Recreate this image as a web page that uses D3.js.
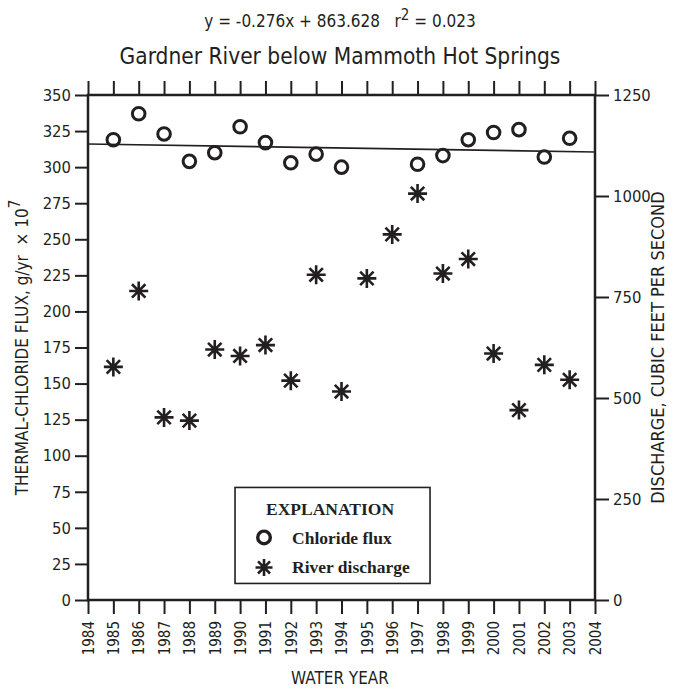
<!DOCTYPE html>
<html>
<head>
<meta charset="utf-8">
<script src="https://cdn.jsdelivr.net/npm/d3@7"></script>
<style>
  body { margin: 0; background: #fff; }
  text { font-family: "Liberation Sans Narrow", "DejaVu Sans Condensed", "Roboto", sans-serif; fill: #231f20; }
  .serif { font-family: "Liberation Serif", "DejaVu Serif", serif; }
</style>
</head>
<body>
<svg class="chart" width="680" height="690"></svg>
<script>
// water years
var years = [1985, 1986, 1987, 1988, 1989, 1990, 1991, 1992, 1993, 1994,
             1995, 1996, 1997, 1998, 1999, 2000, 2001, 2002, 2003];
// thermal-chloride flux, g/yr x 10^7 (null = no value)
var chlorideFlux = [319, 337, 323, 304, 310, 328, 317, 303, 309, 300,
                    null, null, 302, 308, 319, 324, 326, 307, 320];
// river discharge, cubic feet per second
var discharge = [577, 765, 452, 444, 620, 604, 631, 543, 805, 516,
                 796, 905, 1006, 808, 844, 610, 470, 582, 545];
// regression line y = slope*x + intercept, drawn across the year axis
var trendSlope = -0.276, trendIntercept = 863.628;
var trendYears = [1984, 2004];

var yearTicks = d3.range(1984, 2005);
var fluxTicks = d3.range(0, 351, 25);
var dischargeTicks = [0, 250, 500, 750, 1000, 1250];

var ink = "#231f20";
var margin = {top: 95, right: 85, bottom: 90, left: 88};
var width = 680 - margin.left - margin.right,
    height = 690 - margin.top - margin.bottom;

var svg = d3.select('.chart');
var chart = svg.append('g')
    .attr('transform', 'translate(' + margin.left + ',' + margin.top + ')');

var x = d3.scaleLinear().domain([1984, 2004]).range([0, width]);
var y = d3.scaleLinear().domain([0, 350]).range([height, 0]);
var y2 = d3.scaleLinear().domain([0, 1250]).range([height, 0]);

function styleAxis(g){
  g.select('.domain').remove();
  g.selectAll('.tick line').attr('stroke', ink).attr('stroke-width', 2);
  g.selectAll('.tick text').style('font-size', '16.5px').attr('fill', ink);
}

// bottom axis
chart.append('g')
  .attr('transform', 'translate(0,' + height + ')')
  .call(d3.axisBottom(x).tickValues(yearTicks).tickFormat(d3.format('d')).tickSize(14))
  .call(styleAxis)
  .selectAll('.tick text')
    .style('font-size', '15px')
    .attr('transform', 'rotate(-90)')
    .attr('text-anchor', 'end')
    .attr('x', -21)
    .attr('y', 0)
    .attr('dy', '0.35em');

// top ticks
chart.append('g')
  .call(d3.axisTop(x).tickValues(yearTicks).tickFormat('').tickSize(14))
  .call(styleAxis);

// left axis
chart.append('g')
  .call(d3.axisLeft(y).tickValues(fluxTicks).tickSize(13).tickPadding(4))
  .call(styleAxis);

// right axis
chart.append('g')
  .attr('transform', 'translate(' + width + ',0)')
  .call(d3.axisRight(y2).tickValues(dischargeTicks).tickFormat(d3.format('d')).tickSize(14).tickPadding(4))
  .call(styleAxis);

// frame
chart.append('rect')
  .attr('width', width).attr('height', height)
  .attr('fill', 'none').attr('stroke', ink).attr('stroke-width', 2.5);

// trend line
var trend = d3.line()
  .x(function(d){ return x(d); })
  .y(function(d){ return y(trendSlope * d + trendIntercept); });
chart.append('path')
  .datum(trendYears)
  .attr('fill', 'none')
  .attr('stroke', ink)
  .attr('stroke-width', 1.6)
  .attr('d', trend);

// asterisk marker
function star(sel, size){
  var r = size / 2, d = r * Math.SQRT1_2;
  sel.append('path')
    .attr('d', 'M' + (-r) + ',0H' + r + 'M0,' + (-r) + 'V' + r +
               'M' + (-d) + ',' + (-d) + 'L' + d + ',' + d +
               'M' + (-d) + ',' + d + 'L' + d + ',' + (-d))
    .attr('stroke', ink)
    .attr('stroke-width', 2.6)
    .attr('fill', 'none');
}

var rows = years.map(function(yr, i){
  return {year: yr, flux: chlorideFlux[i], q: discharge[i]};
});

chart.selectAll('.discharge')
  .data(rows.filter(function(d){ return d.q != null; }))
  .enter().append('g')
  .attr('class', 'discharge')
  .attr('transform', function(d){ return 'translate(' + x(d.year) + ',' + y2(d.q) + ')'; })
  .each(function(){ star(d3.select(this), 19); });

chart.selectAll('.flux')
  .data(rows.filter(function(d){ return d.flux != null; }))
  .enter().append('circle')
  .attr('class', 'flux')
  .attr('cx', function(d){ return x(d.year); })
  .attr('cy', function(d){ return y(d.flux); })
  .attr('r', 6.3)
  .attr('fill', 'none')
  .attr('stroke', ink)
  .attr('stroke-width', 3);

// legend
var legend = chart.append('g')
  .attr('transform', 'translate(' + (x(1989.8)) + ',' + (y(78)) + ')');
legend.append('rect')
  .attr('width', 195).attr('height', 96)
  .attr('fill', '#fff').attr('stroke', ink).attr('stroke-width', 1.6);
legend.append('text')
  .attr('class', 'serif')
  .attr('x', 95).attr('y', 28)
  .attr('text-anchor', 'middle')
  .style('font-size', '17.5px').style('font-weight', 'bold')
  .text('EXPLANATION');
legend.append('circle')
  .attr('cx', 29).attr('cy', 50).attr('r', 6.3)
  .attr('fill', 'none').attr('stroke', ink).attr('stroke-width', 3.4);
legend.append('text')
  .attr('class', 'serif')
  .attr('x', 57).attr('y', 57)
  .style('font-size', '17.5px').style('font-weight', 'bold')
  .text('Chloride flux');
star(legend.append('g').attr('transform', 'translate(29,80)'), 17);
legend.append('text')
  .attr('class', 'serif')
  .attr('x', 57).attr('y', 86)
  .style('font-size', '17.5px').style('font-weight', 'bold')
  .text('River discharge');

// titles
var eq = svg.append('text')
  .attr('x', 340).attr('y', 27)
  .attr('text-anchor', 'middle')
  .style('font-size', '17px');
eq.append('tspan').text('y = -0.276x + 863.628\u00a0\u00a0\u00a0r');
eq.append('tspan').attr('dy', -7).style('font-size', '15px').text('2');
eq.append('tspan').attr('dy', 7).text(' = 0.023');

svg.append('text')
  .attr('x', 340).attr('y', 64)
  .attr('text-anchor', 'middle')
  .style('font-size', '22.5px')
  .text('Gardner River below Mammoth Hot Springs');

svg.append('text')
  .attr('x', 340).attr('y', 684)
  .attr('text-anchor', 'middle')
  .style('font-size', '17px')
  .text('WATER YEAR');

var yl = svg.append('text')
  .attr('transform', 'translate(28,' + (margin.top + height / 2) + ') rotate(-90)')
  .attr('text-anchor', 'middle')
  .style('font-size', '17px');
yl.append('tspan').text('THERMAL-CHLORIDE FLUX, g/yr\u00a0\u00a0\u00d7 10');
yl.append('tspan').attr('dy', -8).style('font-size', '15px').text('7');

svg.append('text')
  .attr('transform', 'translate(664,' + (margin.top + height / 2) + ') rotate(-90)')
  .attr('text-anchor', 'middle')
  .style('font-size', '18px')
  .text('DISCHARGE, CUBIC FEET PER SECOND');
</script>
</body>
</html>
